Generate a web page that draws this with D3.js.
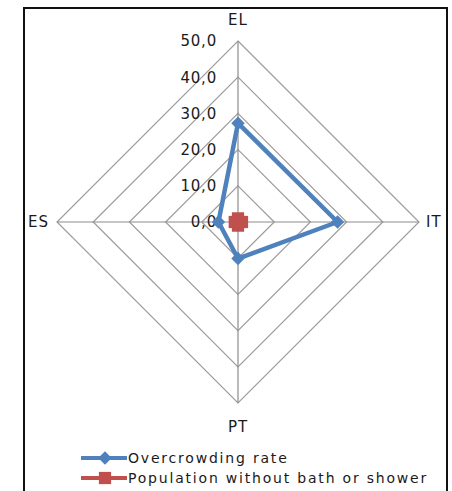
<!DOCTYPE html>
<html>
<head>
<meta charset="utf-8">
<script src="https://cdn.jsdelivr.net/npm/d3@7"></script>
<style>
  body { margin: 0; background: #fff; }
  text { font-family: "DejaVu Sans", sans-serif; fill: #1a1a1a; }
</style>
</head>
<body>
<script>
// categories clockwise from the top
var categories = ["EL", "IT", "PT", "ES"];
var overcrowdingRate = [27.3, 27.5, 10.1, 5.4];
var withoutBath = [1.0, 1.1, 1.0, 0.9];
var tickValues = [0, 10, 20, 30, 40, 50];
var tickLabels = ["0,0", "10,0", "20,0", "30,0", "40,0", "50,0"];
var seriesNames = ["Overcrowding rate", "Population without bath or shower"];

var W = 452, H = 491;
var cx = 238, cy = 222, R = 181;

var svg = d3.select("body").append("svg")
    .attr("width", W)
    .attr("height", H);

// outer frame
svg.append("rect")
    .attr("x", 24).attr("y", 8)
    .attr("width", 423).attr("height", H)
    .attr("fill", "#fff")
    .attr("stroke", "#111")
    .attr("stroke-width", 2);

var r = d3.scaleLinear().domain([0, 50]).range([0, R]);
var angle = d3.scalePoint().domain(categories).range([0, 270]);

function pt(cat, v) {
    var a = angle(cat) * Math.PI / 180;
    return [cx + Math.sin(a) * r(v), cy - Math.cos(a) * r(v)];
}

var g = svg.append("g");

// grid rings
tickValues.slice(1).forEach(function (t) {
    g.append("path")
        .attr("d", d3.line()(categories.map(function (c) { return pt(c, t); })) + "Z")
        .attr("fill", "none")
        .attr("stroke", "#9c9c9c")
        .attr("stroke-width", 1.2);
});

// spokes
categories.forEach(function (c) {
    var p = pt(c, 50);
    g.append("line")
        .attr("x1", cx).attr("y1", cy)
        .attr("x2", p[0]).attr("y2", p[1])
        .attr("stroke", "#8c8c8c")
        .attr("stroke-width", 1.2);
});

// tick labels along the vertical axis
g.selectAll(".tick").data(tickValues).enter().append("text")
    .attr("x", 217)
    .attr("y", function (d) { return cy - r(d); })
    .attr("dy", "0.36em")
    .attr("text-anchor", "end")
    .attr("font-size", 15)
    .attr("letter-spacing", 0.8)
    .text(function (d, i) { return tickLabels[i]; });

// category labels
var labelPos = {
    EL: [cx, 20, "middle"],
    IT: [426, cy, "start"],
    PT: [cx, 427, "middle"],
    ES: [49, cy, "end"]
};
categories.forEach(function (c) {
    var l = labelPos[c];
    g.append("text")
        .attr("x", l[0]).attr("y", l[1])
        .attr("dy", "0.36em")
        .attr("text-anchor", l[2])
        .attr("font-size", 15)
        .attr("letter-spacing", 1)
        .text(c);
});

var diamond = d3.symbol().type(d3.symbolSquare).size(90);
var square = d3.symbol().type(d3.symbolSquare).size(150);

var series = [
    { name: seriesNames[0], values: overcrowdingRate, color: "#4f81bd", sym: diamond, rot: 45 },
    { name: seriesNames[1], values: withoutBath, color: "#c0504d", sym: square, rot: 0 }
];

series.forEach(function (s) {
    var pts = categories.map(function (c, i) { return pt(c, s.values[i]); });
    g.append("path")
        .attr("d", d3.line()(pts) + "Z")
        .attr("fill", "none")
        .attr("stroke", s.color)
        .attr("stroke-width", 4.5)
        .attr("stroke-linejoin", "round");
    g.selectAll(null).data(pts).enter().append("path")
        .attr("d", s.sym())
        .attr("transform", function (d) { return "translate(" + d[0] + "," + d[1] + ") rotate(" + s.rot + ")"; })
        .attr("fill", s.color);
});

// legend
var legend = svg.append("g");
series.forEach(function (s, i) {
    var y = 458 + i * 20;
    legend.append("line")
        .attr("x1", 81).attr("x2", 127)
        .attr("y1", y).attr("y2", y)
        .attr("stroke", s.color)
        .attr("stroke-width", 4);
    legend.append("path")
        .attr("d", s.sym())
        .attr("transform", "translate(105," + y + ") rotate(" + s.rot + ")")
        .attr("fill", s.color);
    legend.append("text")
        .attr("x", 128).attr("y", y)
        .attr("dy", "0.36em")
        .attr("font-size", 14)
        .attr("letter-spacing", 1.8)
        .text(s.name);
});
</script>
</body>
</html>
